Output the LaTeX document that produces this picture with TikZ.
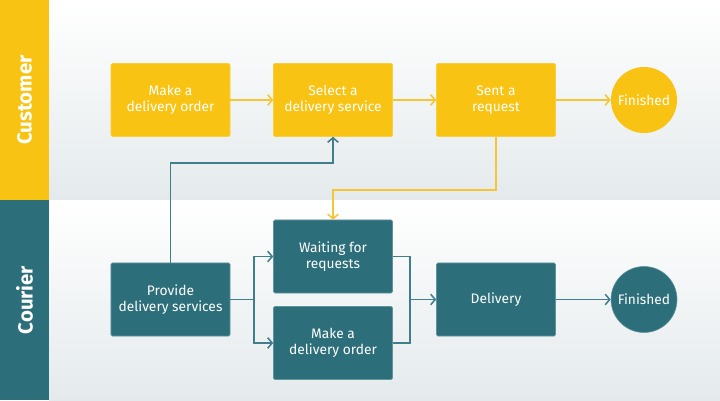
\documentclass[tikz,border=0pt]{standalone}
\usepackage{fontspec}
\setmainfont{Fira Sans}
\usetikzlibrary{arrows.meta}
\definecolor{custyellow}{HTML}{F8C313}
\definecolor{courteal}{HTML}{2C6F7B}
\definecolor{lanegrey}{HTML}{E4EAEC}
\definecolor{yline}{HTML}{F6C535}
\definecolor{tline}{HTML}{3F7E8A}
\begin{document}
\begin{tikzpicture}[x=0.025cm,y=-0.025cm,
  stepbox/.style={rectangle,rounded corners=1pt,minimum width=2.975cm,minimum height=1.825cm,
    align=center,text=white,font=\fontsize{9.8}{11.6}\selectfont,line width=0.4pt},
  custbox/.style={stepbox,fill=custyellow,draw=custyellow!80!white},
  courbox/.style={stepbox,fill=courteal,draw=courteal!75!white},
  endcirc/.style={circle,minimum size=1.65cm,inner sep=0pt,text=white,font=\fontsize{9.8}{11.6}\selectfont},
  yarr/.style={draw=yline,line width=1.1pt,-{Straight Barb[length=3.2pt,width=7.5pt,line width=1.1pt]}},
  tarr/.style={draw=tline,line width=1.1pt,-{Straight Barb[length=3.2pt,width=7.5pt,line width=1.1pt]}},
  tplain/.style={draw=tline,line width=1.1pt},
  lanelabel/.style={rotate=90,text=white,font=\fontsize{14.5}{16}\selectfont\bfseries}]
\useasboundingbox (0,0) rectangle (720,400);
% lanes
\shade[top color=white,bottom color=lanegrey] (49,0) rectangle (720,200);
\shade[top color=white,bottom color=lanegrey] (49,200) rectangle (720,400);
\fill[custyellow] (0,0) rectangle (49,200);
\fill[courteal] (0,200) rectangle (49,400);
\node[lanelabel] (customer) at (24.5,100) {Customer};
\node[lanelabel] (courier) at (24.5,300) {Courier};
% customer lane
\node[custbox] (makeorder) at (170.5,100) {Make a\\delivery order};
\node[custbox] (select) at (333,100) {Select a\\delivery service};
\node[custbox] (sent) at (496,100) {Sent a\\request};
\node[endcirc,fill=custyellow] (custend) at (644,100) {Finished};
% courier lane
\node[courbox] (provide) at (170.5,299.5) {Provide\\delivery services};
\node[courbox] (waiting) at (333,256.5) {Waiting for\\requests};
\node[courbox] (courorder) at (333,343) {Make a\\delivery order};
\node[courbox] (delivery) at (496,299.5) {Delivery};
\node[endcirc,fill=courteal,draw=courteal!75!white] (courend) at (644,299.5) {Finished};
% connectors
\coordinate (up) at (170.5,163);
\coordinate (down) at (496,190);
\coordinate (split) at (254,299.5);
\coordinate (join) at (410,299.5);
\draw[yarr] (makeorder) -- (select);
\draw[yarr] (select) -- (sent);
\draw[yarr] (sent) -- (custend);
\draw[tarr] (provide.north) -- (up) -| (select.south);
\draw[yarr] (sent.south) -- (down) -| (waiting.north);
\draw[tplain] (provide) -- (split);
\draw[tarr] (split) |- (waiting);
\draw[tarr] (split) |- (courorder);
\draw[tplain] (waiting) -| (join);
\draw[tplain] (courorder) -| (join);
\draw[tarr] (join) -- (delivery);
\draw[tarr] (delivery) -- (courend);
\end{tikzpicture}
\end{document}
